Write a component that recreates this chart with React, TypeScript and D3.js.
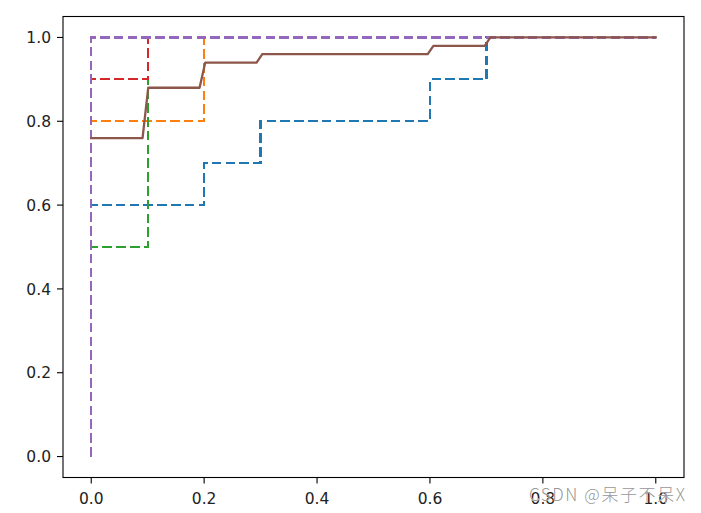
import React from "react";
import * as d3 from "d3";

// Per-fold ROC curves (false positive rate / true positive rate)
const fold0Fpr = [0, 0, 0.2, 0.2, 0.3, 0.3, 0.6, 0.6, 0.7, 0.7, 1.0];
const fold0Tpr = [0, 0.6, 0.6, 0.7, 0.7, 0.8, 0.8, 0.9, 0.9, 1.0, 1.0];
const fold1Fpr = [0, 0, 0.2, 0.2, 1.0];
const fold1Tpr = [0, 0.8, 0.8, 1.0, 1.0];
const fold2Fpr = [0, 0, 0.1, 0.1, 1.0];
const fold2Tpr = [0, 0.5, 0.5, 1.0, 1.0];
const fold3Fpr = [0, 0, 0.1, 0.1, 1.0];
const fold3Tpr = [0, 0.9, 0.9, 1.0, 1.0];
const fold4Fpr = [0, 0, 1.0];
const fold4Tpr = [0, 1.0, 1.0];

// Mean ROC (interpolated on a 100-point grid)
const meanFpr = [0, 0.0909, 0.101, 0.1919, 0.202, 0.2929, 0.303, 0.596, 0.6061, 0.697, 0.7071, 1.0];
const meanTpr = [0.76, 0.76, 0.88, 0.88, 0.94, 0.94, 0.96, 0.96, 0.98, 0.98, 1.0, 1.0];

const xTicks = [0, 0.2, 0.4, 0.6, 0.8, 1.0];
const yTicks = [0, 0.2, 0.4, 0.6, 0.8, 1.0];

const foldColors = ["#1f77b4", "#ff7f0e", "#2ca02c", "#d62728", "#9467bd"];
const meanColor = "#8c564b";

export default function App() {
  const W = 701, H = 513;
  const left = 63, right = 684, top = 16.5, bottom = 477.5;
  const x = d3.scaleLinear().domain([-0.05, 1.05]).range([left, right]);
  const y = d3.scaleLinear().domain([-0.05, 1.05]).range([bottom, top]);
  const line = d3.line<[number, number]>().x(d => x(d[0])).y(d => y(d[1]));
  const folds: [number[], number[]][] = [
    [fold0Fpr, fold0Tpr],
    [fold1Fpr, fold1Tpr],
    [fold2Fpr, fold2Tpr],
    [fold3Fpr, fold3Tpr],
    [fold4Fpr, fold4Tpr],
  ];
  const font = "DejaVu Sans, sans-serif";
  const fs = 15.5;
  return (
    <svg width={W} height={H} style={{ position: "absolute", left: 0, top: 0, background: "#fff" }}>
      <rect x={0} y={0} width={W} height={H} fill="#fff" />
      <defs>
        <clipPath id="plot">
          <rect x={left} y={top} width={right - left} height={bottom - top} />
        </clipPath>
      </defs>
      <g clipPath="url(#plot)">
        {folds.map(([fx, fy], i) => (
          <path
            key={i}
            d={line(fx.map((v, j) => [v, fy[j]] as [number, number])) || ""}
            fill="none"
            stroke={foldColors[i]}
            strokeWidth={2.2}
            strokeDasharray="9.6,4.2"
            strokeLinejoin="miter"
            strokeLinecap="butt"
            shapeRendering="crispEdges"
          />
        ))}
        <path
          d={line(meanFpr.map((v, j) => [v, meanTpr[j]] as [number, number])) || ""}
          fill="none"
          stroke={meanColor}
          strokeWidth={2.3}
          strokeLinejoin="round"
          strokeLinecap="square"
        />
      </g>
      <rect x={left} y={top} width={right - left} height={bottom - top} fill="none" stroke="#000" strokeWidth={1.1} />
      {xTicks.map(t => (
        <g key={"x" + t}>
          <line x1={x(t)} x2={x(t)} y1={bottom} y2={bottom + 6} stroke="#000" strokeWidth={1.1} />
          <text x={x(t)} y={bottom + 26.5} textAnchor="middle" fontFamily={font} fontSize={fs} fill="#222">
            {t.toFixed(1)}
          </text>
        </g>
      ))}
      {yTicks.map(t => (
        <g key={"y" + t}>
          <line x1={left - 6} x2={left} y1={y(t)} y2={y(t)} stroke="#000" strokeWidth={1.1} />
          <text x={left - 12} y={y(t) + 5.6} textAnchor="end" fontFamily={font} fontSize={fs} fill="#222">
            {t.toFixed(1)}
          </text>
        </g>
      ))}
      <text
        x={529}
        y={501}
        textAnchor="start"
        fontFamily="Noto Sans CJK SC, sans-serif"
        fontSize={17}
        fontWeight={300}
        textLength={156}
        lengthAdjust="spacing"
        fill="#8a8a8a"
        fillOpacity={0.9}
        stroke="#fff"
        strokeWidth={0.5}
        paintOrder="stroke"
      >
        CSDN @呆子不呆X
      </text>
    </svg>
  );
}
